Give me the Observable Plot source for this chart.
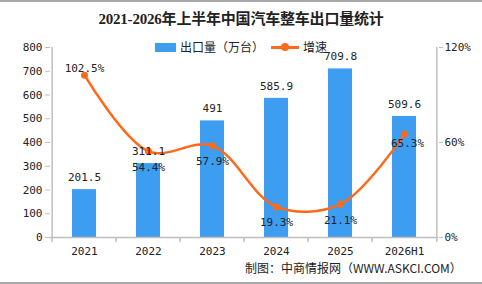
<!DOCTYPE html>
<html><head><meta charset="utf-8">
<script src="https://cdn.jsdelivr.net/npm/d3@7"></script>
<script src="https://cdn.jsdelivr.net/npm/@observablehq/plot@0.6"></script>
<style>
body{margin:0;background:#fff;}
#wrap{position:relative;width:482px;height:284px;overflow:hidden;background:#fff;font-family:"DejaVu Sans Mono","Noto Sans CJK SC",monospace;}
#wrap svg{position:absolute;left:0;top:0;}
.bt{position:absolute;left:0;width:482px;height:2px;background:#a8a8a8;}
#title{position:absolute;left:0;width:482px;top:7px;text-align:center;font:bold 15px "Liberation Serif","Noto Sans CJK SC",serif;color:#222;letter-spacing:-0.2px;}
#legend{position:absolute;top:39px;left:155px;height:16px;font:12px "Noto Sans CJK SC",sans-serif;color:#222;z-index:2;}
#legend .sw{position:absolute;top:4px;left:0;width:21px;height:9px;background:#3d9df0;}
#legend .t1{position:absolute;left:25px;top:-1px;white-space:nowrap;}
#legend .ln{position:absolute;left:116px;top:7px;width:28px;height:3px;background:#ff6a1a;}
#legend .dt{position:absolute;left:126px;top:4px;width:8px;height:8px;border-radius:50%;background:#ff6a1a;}
#legend .t2{position:absolute;left:148px;top:-1px;white-space:nowrap;}
#caption{position:absolute;left:245px;top:259px;font:12px "Noto Sans CJK SC",sans-serif;color:#222;white-space:nowrap;}
</style></head>
<body>
<div id="wrap">
  <div class="bt" style="top:0"></div>
  <div id="title">2021-2026年上半年中国汽车整车出口量统计</div>
  <div id="legend"><div class="sw"></div><span class="t1">出口量（万台）</span><div class="ln"></div><div class="dt"></div><span class="t2">增速</span></div>
  <div id="caption">制图：中商情报网（WWW.ASKCI.COM）</div>
  <div class="bt" style="top:282px"></div>
</div>
<script>
const categories = ["2021", "2022", "2023", "2024", "2025", "2026H1"];
const exportVolume = [201.5, 311.1, 491, 585.9, 709.8, 509.6];
const growthRate = [102.5, 54.4, 57.9, 19.3, 21.1, 65.3];
const leftTicks = [0, 100, 200, 300, 400, 500, 600, 700, 800];
const rightTicks = [0, 60, 120];

const W = 482, H = 284, mL = 50, mR = 44, mT = 47, mB = 47;
const yMax = 800, rMax = 120, k = yMax / rMax;
const step = (W - mL - mR) / categories.length;
const tickLen = 5 * yMax / (H - mT - mB);
const blue = "#3d9df0", orange = "#ff6a1a", axisC = "#bfbfbf";
const mono = "DejaVu Sans Mono, Noto Sans CJK SC, monospace";

const data = categories.map((c, i) => ({cat: c, v: exportVolume[i], g: growthRate[i]}));
const gy = d => d.g * k;
const first = categories[0], last = categories[categories.length - 1];
const middle = d => d.cat !== first && d.cat !== last;

const chart = Plot.plot({
  width: W, height: H,
  marginLeft: mL, marginRight: mR, marginTop: mT, marginBottom: mB,
  style: {fontFamily: mono, fontSize: "11px", color: "#222", background: "transparent"},
  x: {domain: categories, paddingInner: 0.63, paddingOuter: 0.315, axis: null, label: null},
  y: {domain: [0, yMax], axis: null, label: null},
  marks: [
    Plot.barY(data, {x: "cat", y: "v", fill: blue}),
    Plot.ruleY([0], {stroke: axisC, strokeWidth: 1.5}),
    Plot.ruleX(categories.slice(1), {x: d => d, y1: 0, y2: -tickLen, dx: -step / 2, stroke: axisC, strokeWidth: 1.5}),
    Plot.ruleX([first], {x: d => d, y1: -tickLen, y2: yMax, dx: -step / 2, stroke: axisC, strokeWidth: 1.5}),
    Plot.ruleX([last], {x: d => d, y1: -tickLen, y2: yMax, dx: step / 2, stroke: axisC, strokeWidth: 1.5}),
    Plot.axisY(leftTicks, {anchor: "left", label: null, tickSize: 5, tickPadding: 3, stroke: axisC, fill: "#222", fontSize: 11}),
    Plot.axisY(rightTicks.map(v => v * k), {anchor: "right", label: null, tickSize: 4, tickPadding: 2, stroke: axisC, fill: "#222", fontSize: 11, tickFormat: v => Math.round(v / k) + "%"}),
    Plot.axisX(categories, {anchor: "bottom", label: null, tickSize: 0, tickPadding: 10, fill: "#222", fontSize: 11}),
    Plot.line(data, {x: "cat", y: gy, stroke: orange, strokeWidth: 2.5, curve: "catmull-rom"}),
    Plot.dot(data, {x: "cat", y: gy, r: 3.5, fill: orange}),
    Plot.text(data, {x: "cat", y: "v", text: d => String(d.v), dy: -12, fill: "#222", fontSize: 11}),
    Plot.text(data.filter(d => d.cat === first), {x: "cat", y: gy, text: d => d.g.toFixed(1) + "%", dy: -7, fill: "#222", fontSize: 11}),
    Plot.text(data.filter(middle), {x: "cat", y: gy, text: d => d.g.toFixed(1) + "%", dy: 16, fill: "#222", fontSize: 11}),
    Plot.text(data.filter(d => d.cat === last), {x: "cat", y: gy, text: d => d.g.toFixed(1) + "%", dy: 9, dx: 3, fill: "#222", fontSize: 11})
  ]
});
document.getElementById("wrap").insertBefore(chart, document.getElementById("legend"));
</script>
</body></html>
